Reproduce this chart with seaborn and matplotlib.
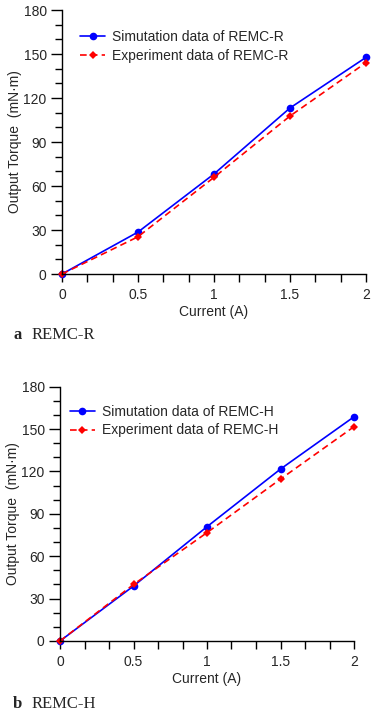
import numpy as np
import pandas as pd
import seaborn as sns
import matplotlib.pyplot as plt
from matplotlib.ticker import MultipleLocator

current = [0, 0.5, 1, 1.5, 2]

# Painel a - REMC-R
sim_r = [0, 28.6, 68.2, 113.2, 147.7]
exp_r = [0, 25.4, 65.9, 107.7, 144.1]

# Painel b - REMC-H
sim_h = [0, 38.9, 80.9, 121.7, 158.7]
exp_h = [0, 40.0, 76.7, 114.6, 151.7]

x_ticks = [0, 0.5, 1, 1.5, 2]
x_ticklabels = ["0", "0.5", "1", "1.5", "2"]
y_ticks = [0, 30, 60, 90, 120, 150, 180]

sns.set_style("ticks")
plt.rcParams["font.family"] = ["Liberation Sans", "DejaVu Sans"]
plt.rcParams["font.size"] = 10

fig = plt.figure(figsize=(3.77, 7.13), dpi=100)

paineis = [
    ([62 / 377, 1 - 274 / 713, 304 / 377, 264 / 713], sim_r, exp_r, "REMC-R", "a", 335, (0.06, 0.925)),
    ([60 / 377, 1 - 641 / 713, 294 / 377, 254.3 / 713], sim_h, exp_h, "REMC-H", "b", 704, (0.034, 0.93)),
]

for pos, sim, exp, nome, letra, cap_y, leg_pos in paineis:
    ax = fig.add_axes(pos)
    df = pd.DataFrame({"x": current, "sim": sim, "exp": exp})
    sns.lineplot(data=df, x="x", y="sim", ax=ax, color="#0000ff", marker="o",
                 markersize=5.5, markeredgewidth=0, linewidth=1.2,
                 label=f"Simutation data of {nome}")
    sns.lineplot(data=df, x="x", y="exp", ax=ax, color="#ff0000", marker="D",
                 markersize=4.5, markeredgewidth=0, linewidth=1.2,
                 linestyle=(0, (4, 2.5)), label=f"Experiment data of {nome}")

    ax.set_xlim(0, 2)
    ax.set_ylim(0, 180)
    ax.set_xticks(x_ticks)
    ax.set_xticklabels(x_ticklabels)
    ax.set_yticks(y_ticks)
    ax.xaxis.set_minor_locator(MultipleLocator(1 / 6))
    ax.yaxis.set_minor_locator(MultipleLocator(10))
    ax.tick_params(axis="y", which="major", length=8, width=1, color="black", labelsize=10, pad=3)
    ax.tick_params(axis="y", which="minor", length=5, width=1, color="black")
    ax.tick_params(axis="x", which="major", length=6, width=1, color="black", labelsize=10, pad=4)
    ax.tick_params(axis="x", which="minor", length=6, width=1, color="black")
    for s in ["top", "right"]:
        ax.spines[s].set_visible(False)
    for s in ["left", "bottom"]:
        ax.spines[s].set_linewidth(1)
        ax.spines[s].set_color("black")
    for ln in ax.lines:
        ln.set_clip_on(False)

    ax.set_xlabel("Current (A)", fontsize=10, labelpad=2)
    ax.set_ylabel("Output Torque  (mN·m)", fontsize=10, labelpad=1)

    ax.legend(loc="upper left", bbox_to_anchor=leg_pos, frameon=False,
              fontsize=10, handlelength=1.8, handletextpad=0.5,
              labelspacing=0.35, borderaxespad=0, borderpad=0)

    fig.text(13 / 377, 1 - cap_y / 713, letra, fontsize=12, weight="bold",
             family=["Liberation Serif", "DejaVu Serif"], va="center")
    fig.text(32 / 377, 1 - cap_y / 713, nome, fontsize=12,
             family=["Liberation Serif", "DejaVu Serif"], va="center")

plt.savefig("out.png", dpi=100)
